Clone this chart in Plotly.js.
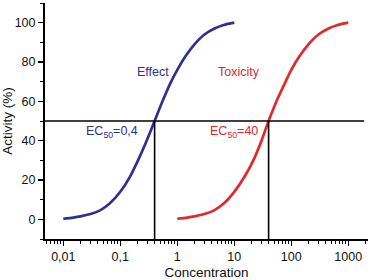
<!DOCTYPE html>
<html><head><meta charset="utf-8">
<script src="https://cdn.plot.ly/plotly-3.0.1.min.js"></script>
<style>html,body{margin:0;padding:0;background:#fff}#chart{width:370px;height:280px}</style>
</head><body><div id="chart"></div>
<script>
// Effect curve
const effectX = [0.01, 0.015, 0.02, 0.03, 0.045, 0.065, 0.1, 0.15, 0.22, 0.3, 0.4, 0.55, 0.75, 1, 1.4, 2, 3, 4.5, 6.5, 10];
const effectY = [0.3, 0.9, 1.5, 2.7, 4.7, 8, 14, 22, 32, 41, 50, 60, 69, 76, 83, 89, 94, 97, 98.8, 100];
// Toxicity curve
const toxX = [1, 1.5, 2, 3, 4.5, 6.5, 10, 15, 22, 30, 40, 55, 75, 100, 140, 200, 300, 450, 650, 1000];
const toxY = [0.3, 0.9, 1.5, 2.7, 4.7, 8, 14, 21.5, 30.5, 40, 50, 60, 68.5, 76, 83, 89, 94, 97, 98.8, 100];
const ec50 = [0.4, 40];
const halfLevel = 50;
const xTickVals = [0.01, 0.1, 1, 10, 100, 1000];
const xTickText = ['0,01', '0,1', '1', '10', '100', '1000'];
const yTickVals = [0, 20, 40, 60, 80, 100];

const blue = '#2e3192', red = '#e3272b';
const minorX = [];
for (let d = -3; d <= 3; d++) for (let m = 2; m <= 9; m++) {
  const v = m * Math.pow(10, d);
  if (v > 0.0048 && v < 2200) minorX.push(v);
}
const yMin = -10;
const traces = [
  {x: effectX, y: effectY, mode: 'lines', line: {color: blue, width: 2.7, shape: 'spline', smoothing: 0.8}, hoverinfo: 'skip'},
  {x: toxX, y: toxY, mode: 'lines', line: {color: red, width: 2.7, shape: 'spline', smoothing: 0.8}, hoverinfo: 'skip'},
  {x: [ec50[0], ec50[0]], y: [halfLevel, yMin], mode: 'lines', line: {color: '#000', width: 1.6}, hoverinfo: 'skip'},
  {x: [ec50[1], ec50[1]], y: [halfLevel, yMin], mode: 'lines', line: {color: '#000', width: 1.6}, hoverinfo: 'skip'}
];
const font = {family: '"Liberation Sans", Arial, sans-serif', size: 12.5, color: '#111'};
const layout = {
  width: 370, height: 280,
  margin: {l: 45, r: 2, t: 3, b: 41},
  showlegend: false,
  paper_bgcolor: '#fff', plot_bgcolor: '#fff',
  font: font,
  xaxis: {
    type: 'log', range: [-2.321, 3.346],
    tickmode: 'array', tickvals: xTickVals, ticktext: xTickText,
    ticks: 'outside', ticklen: 5, tickwidth: 1.5, tickcolor: '#000',
    showline: true, linecolor: '#000', linewidth: 2,
    showgrid: false, zeroline: false,
    minor: {tickmode: 'array', tickvals: minorX, ticks: 'outside', ticklen: 3, tickwidth: 1, tickcolor: '#000', showgrid: false},
    title: {text: 'Concentration', font: {size: 13.5, family: font.family, color: '#111'}, standoff: 5},
    tickfont: font
  },
  yaxis: {
    range: [-10, 110],
    tickmode: 'array', tickvals: yTickVals,
    ticks: 'outside', ticklen: 5, tickwidth: 1.5, tickcolor: '#000',
    showline: true, linecolor: '#000', linewidth: 2,
    showgrid: false, zeroline: false,
    minor: {dtick: 10, ticks: 'outside', ticklen: 3, tickwidth: 1, tickcolor: '#000', showgrid: false},
    title: {text: 'Activity (%)', font: {size: 13.5, family: font.family, color: '#111'}, standoff: 7},
    tickfont: font
  },
  shapes: [
    {type: 'line', xref: 'paper', x0: 0, x1: 0.988, yref: 'y', y0: halfLevel, y1: halfLevel, line: {color: '#000', width: 1.6}}
  ],
  annotations: [
    {xref: 'paper', yref: 'paper', x: 0.334, y: 0.746, text: 'Effect', showarrow: false, font: {family: font.family, size: 12.5, color: blue}},
    {xref: 'paper', yref: 'paper', x: 0.672, y: 0.746, text: 'Toxicity', showarrow: false, font: {family: font.family, size: 12.5, color: red}},
    {xref: 'paper', yref: 'paper', x: 0.294, y: 0.453, xanchor: 'right', text: 'EC<sub>50</sub>=0,4', showarrow: false, font: {family: font.family, size: 12.5, color: blue}},
    {xref: 'paper', yref: 'paper', x: 0.666, y: 0.453, xanchor: 'right', text: 'EC<sub>50</sub>=40', showarrow: false, font: {family: font.family, size: 12.5, color: red}}
  ]
};
Plotly.newPlot('chart', traces, layout, {staticPlot: true, displayModeBar: false});
</script></body></html>
